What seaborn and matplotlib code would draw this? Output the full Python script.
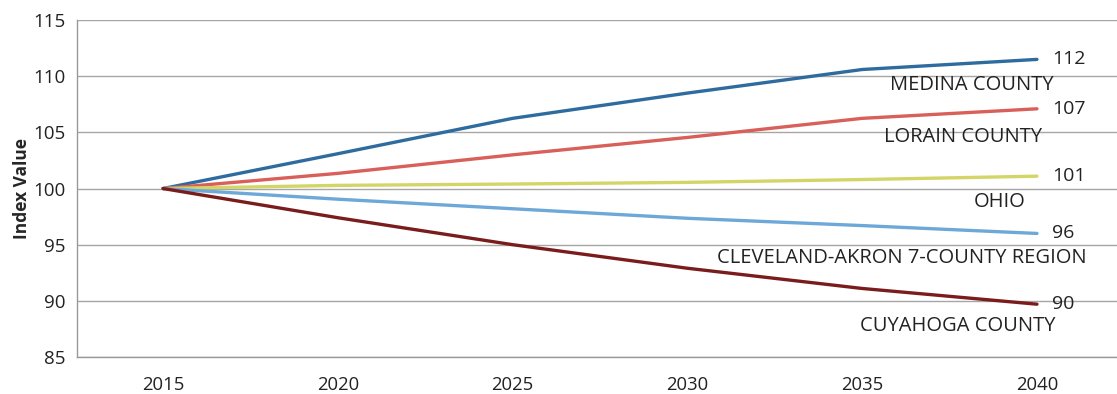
import numpy as np
import pandas as pd
import matplotlib
matplotlib.use("Agg")
import matplotlib.pyplot as plt
import seaborn as sns

# --- DATA ---
years = [2015, 2020, 2025, 2030, 2035, 2040]
medina = [100, 103.1, 106.25, 108.5, 110.6, 111.5]
lorain = [100, 101.35, 103.0, 104.55, 106.25, 107.1]
ohio = [100, 100.28, 100.4, 100.55, 100.8, 101.1]
cleveland = [100, 99.05, 98.2, 97.35, 96.7, 96.0]
cuyahoga = [100, 97.4, 95.0, 92.9, 91.1, 89.7]

series_names = ["MEDINA COUNTY", "LORAIN COUNTY", "OHIO",
                "CLEVELAND-AKRON 7-COUNTY REGION", "CUYAHOGA COUNTY"]
end_labels = ["112", "107", "101", "96", "90"]
colors = ["#2E6B9F", "#D95F5A", "#D3D666", "#6EA8D8", "#7A1C1C"]
# where the name label sits relative to the line end (pixels)
name_offsets = [(-65, -26), (-74, -28), (-37, -26), (-135, -25), (-79, -22)]

df = pd.DataFrame({
    "Year": years * 5,
    "Value": medina + lorain + ohio + cleveland + cuyahoga,
    "Series": [n for n in series_names for _ in years],
})

sns.set_theme(style="white")
plt.rcParams['font.family'] = ['Open Sans', 'DejaVu Sans']

fig = plt.figure(figsize=(11.17, 3.94), dpi=100)
ax = fig.add_axes([0.069, 0.094, 0.931, 0.855])

sns.lineplot(data=df, x="Year", y="Value", hue="Series", palette=colors,
             hue_order=series_names, linewidth=2.4, legend=False, ax=ax)

ax.set_yticks(np.arange(85, 116, 5))
ax.set_xticks(years)
ax.set_xticks(np.arange(2017.5, 2040, 5), minor=True)
ax.set_xlim(2012.54, 2042.29)
ax.set_ylim(85, 115)
ax.tick_params(axis='x', which='major', length=0, labelsize=13.3, pad=14, colors='#222222')
ax.tick_params(axis='x', which='minor', length=5, width=1, color='#999999', direction='out')
ax.tick_params(axis='y', length=5, width=1, color='#999999', labelsize=13.5,
               direction='out', labelcolor='#222222', pad=3)
ax.yaxis.grid(True, color='#A6A6A6', linewidth=1)
ax.xaxis.grid(False)
ax.set_axisbelow(True)
for s in ['top', 'right']:
    ax.spines[s].set_visible(False)
for s in ['left', 'bottom']:
    ax.spines[s].set_color('#999999')
    ax.spines[s].set_linewidth(1)

ax.set_xlabel("")
ax.set_ylabel("Index Value", fontsize=12.5, fontweight='bold', labelpad=2)

vals = [medina, lorain, ohio, cleveland, cuyahoga]
for v, lab, name, off in zip(vals, end_labels, series_names, name_offsets):
    ax.annotate(lab, (years[-1], v[-1]), xytext=(15, 0), textcoords='offset pixels',
                ha='left', va='center', fontsize=14, color='#222222')
    ax.annotate(name, (years[-1], v[-1]), xytext=off, textcoords='offset pixels',
                ha='center', va='center', fontsize=14.5, color='#222222')

fig.savefig("out.png", dpi=100)
